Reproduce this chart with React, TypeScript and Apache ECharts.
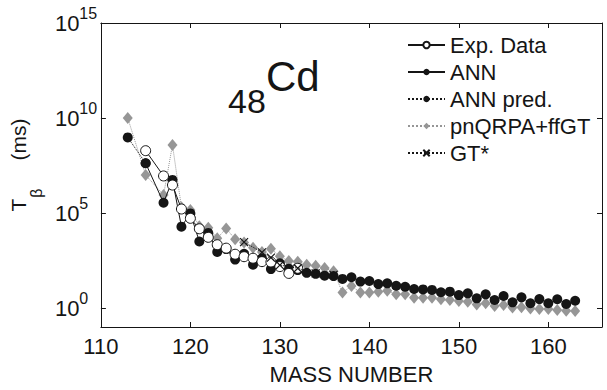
import React, { useEffect, useRef } from "react";
import * as echarts from "echarts";

// log10(T_beta / ms)
const expMass = [115, 117, 118, 119, 120, 121, 122, 123, 124, 125, 126, 127, 128, 129, 130, 131, 132];
const expLog = [8.28, 6.95, 6.47, 5.21, 4.72, 4.17, 3.72, 3.33, 3.15, 2.83, 2.7, 2.62, 2.44, 2.42, 2.18, 1.82, 2.09];

const annMass = [115, 117, 118, 119, 120, 121, 122, 123, 124, 125, 126, 127, 128, 129, 130, 131, 132];
const annLog = [7.62, 5.54, 6.74, 4.28, 4.98, 3.5, 3.95, 2.95, 3.1, 2.55, 2.85, 2.28, 2.6, 2.05, 2.35, 2.07, 2.0];

// ANN predictions: light side (joined to first ANN point) and heavy side (joined to last ANN point)
const predLightMass = [113, 115];
const predLightLog = [8.98, 7.62];
const predHeavyMass = [132, 133, 134, 135, 136, 137, 138, 139, 140, 141, 142, 143, 144, 145, 146, 147, 148, 149, 150, 151, 152, 153, 154, 155, 156, 157, 158, 159, 160, 161, 162, 163];
const predHeavyLog = [2.0, 1.85, 1.8, 1.7, 1.68, 1.53, 1.62, 1.39, 1.42, 1.26, 1.3, 1.17, 1.12, 1.0, 0.98, 0.95, 0.83, 0.86, 0.68, 0.77, 0.51, 0.72, 0.42, 0.63, 0.3, 0.56, 0.25, 0.47, 0.25, 0.46, 0.21, 0.38];

const qrpaMass = [113, 115, 117, 118, 119, 120, 121, 122, 123, 124, 125, 126, 127, 128, 129, 130, 131, 132, 133, 134, 135, 136, 137, 138, 139, 140, 141, 142, 143, 144, 145, 146, 147, 148, 149, 150, 151, 152, 153, 154, 155, 156, 157, 158, 159, 160, 161, 162, 163];
const qrpaLog = [10.0, 7.0, 5.95, 8.58, 5.3, 5.16, 4.3, 4.23, 3.67, 4.19, 3.62, 3.45, 3.17, 2.95, 3.12, 2.72, 2.47, 2.44, 2.28, 2.22, 2.1, 1.93, 0.81, 1.16, 0.81, 0.81, 0.86, 0.91, 0.72, 0.72, 0.54, 0.54, 0.54, 0.46, 0.42, 0.37, 0.33, 0.19, 0.25, 0.1, 0.16, 0.02, 0.04, -0.02, -0.05, -0.05, -0.1, -0.15, -0.16];

const gtMass = [126, 128, 129, 130, 132, 134, 136];
const gtLog = [3.47, 2.93, 2.65, 2.26, 2.09, 1.82, 1.74];

const xTicks = [110, 120, 130, 140, 150, 160];
const yTickExps = [0, 5, 10, 15];

const seriesNames = ["Exp. Data", "ANN", "ANN pred.", "pnQRPA+ffGT", "GT*"];

const pairs = (xs: number[], ys: number[]) => xs.map((x, i) => [x, ys[i]]);

const FONT = "Liberation Sans, Arial, Helvetica, sans-serif";
const INK = "#151515";
const GRAY = "#969696";

export default function App() {
  const ref = useRef<HTMLDivElement>(null);
  useEffect(() => {
    if (!ref.current) return;
    const chart = echarts.init(ref.current, undefined, { renderer: "svg" });
    const baseAxisLine = { show: true, onZero: false, lineStyle: { color: INK, width: 1 } };
    const predStyle = {
      name: "ANN pred.",
      type: "line",
      symbol: "circle",
      symbolSize: 10,
      itemStyle: { color: INK },
      lineStyle: { color: INK, width: 1, type: "dotted" },
      z: 3,
    };
    chart.setOption({
      animation: false,
      backgroundColor: "#fff",
      textStyle: { fontFamily: FONT },
      grid: { left: 99, top: 23, right: 5, bottom: 63 },
      legend: {
        data: seriesNames,
        orient: "vertical",
        left: 407,
        top: 34,
        padding: 0,
        itemWidth: 37,
        itemHeight: 8,
        itemGap: 5,
        textStyle: { fontFamily: FONT, fontSize: 22, color: INK, lineHeight: 22 },
      },
      xAxis: [
        {
          type: "value",
          min: 110,
          max: 166,
          interval: 10,
          name: "MASS NUMBER",
          nameLocation: "middle",
          nameGap: 36,
          nameTextStyle: { fontFamily: FONT, fontSize: 22, color: INK },
          axisLine: baseAxisLine,
          axisTick: { show: true, inside: true, length: 5, lineStyle: { color: INK }, customValues: xTicks },
          axisLabel: { fontFamily: FONT, fontSize: 22, color: INK, margin: 8, customValues: xTicks },
          splitLine: { show: false },
        },
        {
          type: "value",
          position: "top",
          min: 110,
          max: 166,
          interval: 10,
          axisLine: baseAxisLine,
          axisTick: { show: true, inside: true, length: 5, lineStyle: { color: INK }, customValues: xTicks },
          axisLabel: { show: false },
          splitLine: { show: false },
        },
      ],
      yAxis: [
        {
          type: "value",
          min: -1,
          max: 15,
          name: "{t|T}{sub|β}{ms|(ms)}",
          nameLocation: "middle",
          nameRotate: 90,
          nameGap: 58,
          nameTextStyle: {
            fontFamily: FONT,
            color: INK,
            padding: [0, 0, 0, 20],
            rich: {
              t: { fontFamily: FONT, fontSize: 21, color: INK, lineHeight: 22, verticalAlign: "top" },
              sub: { fontFamily: FONT, fontSize: 16, color: INK, lineHeight: 16, verticalAlign: "top", padding: [20, 0, 0, 1] },
              ms: { fontFamily: FONT, fontSize: 21, color: INK, lineHeight: 22, verticalAlign: "top", padding: [0, 0, 0, 28] },
            },
          },
          axisLine: baseAxisLine,
          axisTick: { show: true, inside: true, length: 5, lineStyle: { color: INK }, customValues: yTickExps },
          axisLabel: {
            customValues: yTickExps,
            align: "left",
            margin: 46,
            formatter: (v: number) => `{b|10}{s|${v}}`,
            rich: {
              b: { fontFamily: FONT, fontSize: 22, color: INK, lineHeight: 22, verticalAlign: "middle" },
              s: { fontFamily: FONT, fontSize: 16, color: INK, lineHeight: 16, verticalAlign: "bottom", padding: [0, 0, 13, 0] },
            },
          },
          splitLine: { show: false },
        },
        {
          type: "value",
          position: "right",
          min: -1,
          max: 15,
          axisLine: baseAxisLine,
          axisTick: { show: true, inside: true, length: 5, lineStyle: { color: INK }, customValues: yTickExps },
          axisLabel: { show: false },
          splitLine: { show: false },
        },
      ],
      graphic: [
        { type: "text", left: 228, top: 84, style: { text: "48", font: `34px ${FONT}`, fill: INK } },
        { type: "text", left: 266, top: 55, style: { text: "Cd", font: `42px ${FONT}`, fill: INK } },
      ],
      series: [
        {
          name: "pnQRPA+ffGT",
          type: "line",
          data: pairs(qrpaMass, qrpaLog),
          symbol: "diamond",
          symbolSize: [10, 12],
          itemStyle: { color: GRAY },
          lineStyle: { color: GRAY, width: 1, type: "dotted" },
          z: 2,
        },
        { ...predStyle, data: pairs(predLightMass, predLightLog) },
        { ...predStyle, data: pairs(predHeavyMass, predHeavyLog) },
        {
          name: "ANN",
          type: "line",
          data: pairs(annMass, annLog),
          symbol: "circle",
          symbolSize: 10,
          itemStyle: { color: INK },
          lineStyle: { color: INK, width: 1 },
          z: 4,
        },
        {
          name: "Exp. Data",
          type: "line",
          data: pairs(expMass, expLog),
          symbol: "circle",
          symbolSize: 10,
          itemStyle: { color: "#fff", borderColor: INK, borderWidth: 1 },
          lineStyle: { color: INK, width: 1 },
          z: 5,
        },
        {
          name: "GT*",
          type: "line",
          data: pairs(gtMass, gtLog),
          symbol: "path://M0 0L10 10M10 0L0 10",
          symbolSize: 8,
          itemStyle: { color: "transparent", borderColor: INK, borderWidth: 1.2 },
          lineStyle: { color: INK, width: 1, type: "dotted" },
          z: 6,
        },
      ],
    });
    return () => chart.dispose();
  }, []);
  return <div ref={ref} style={{ position: "fixed", left: 0, top: 0, width: 607, height: 390 }} />;
}
